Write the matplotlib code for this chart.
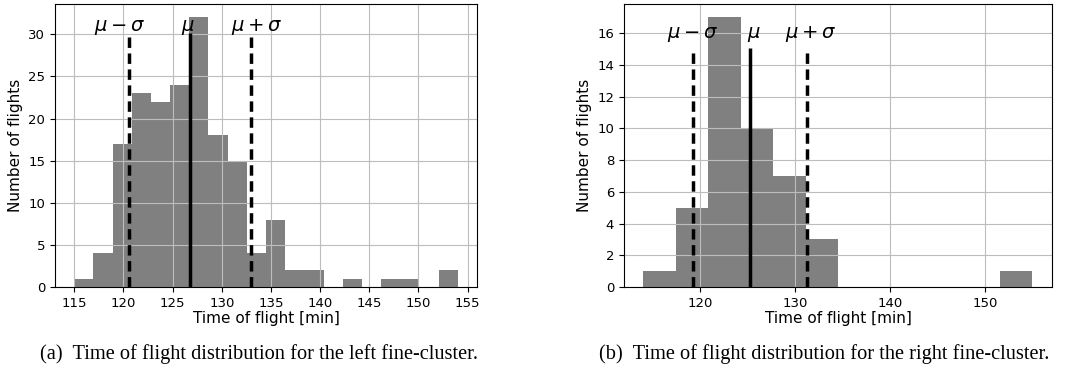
import numpy as np
import matplotlib.pyplot as plt

# left fine-cluster: 20 bins between 115 and 154 min
left_edges = np.linspace(115, 154, 21)
left_counts = [1, 4, 17, 23, 22, 24, 32, 18, 15, 4, 8, 2, 2, 0, 1, 0, 1, 1, 0, 2]
left_mu, left_sigma = 126.8, 6.22

# right fine-cluster: 12 bins between 114 and 155 min
right_edges = np.linspace(114, 155, 13)
right_counts = [1, 5, 17, 10, 7, 3, 0, 0, 0, 0, 0, 1]
right_mu, right_sigma = 125.2, 6.02

captions = ["(a)  Time of flight distribution for the left fine-cluster.",
            "(b)  Time of flight distribution for the right fine-cluster."]


def draw_hist(ax, edges, counts, mu, sigma, line_top, text_y, text_x, xticks=None):
    centers = 0.5 * (edges[:-1] + edges[1:])
    ax.hist(centers, bins=edges, weights=counts, color='gray')
    ax.vlines(mu, 0, line_top, colors='k', linewidth=2.5)
    ax.vlines([mu - sigma, mu + sigma], 0, line_top, colors='k',
              linewidth=2.5, linestyles=(0, (3, 1.6)))
    for x, lab in zip(text_x, [r'$\mu-\sigma$', r'$\mu$', r'$\mu+\sigma$']):
        ax.text(x, text_y, lab, fontsize=14, ha='center', va='bottom')
    ax.grid(True, color='#bdbdbd', linewidth=0.8)
    if xticks is not None:
        ax.set_xticks(xticks)
    ax.tick_params(labelsize=9.5)
    ax.set_xlabel('Time of flight [min]', fontsize=11, labelpad=1)
    ax.set_ylabel('Number of flights', fontsize=11)


fig = plt.figure(figsize=(10.71, 3.77), dpi=100)
ax1 = fig.add_axes([0.0514, 0.2387, 0.394, 0.7507])
ax2 = fig.add_axes([0.5826, 0.2387, 0.3996, 0.7507])

draw_hist(ax1, left_edges, left_counts, left_mu, left_sigma, 30.1, 29.7,
          [119.6, 126.6, 133.6], xticks=np.arange(115, 156, 5))
draw_hist(ax2, right_edges, right_counts, right_mu, right_sigma, 15.1, 15.3,
          [119.2, 125.6, 131.65])

fig.text(0.2418, 0.062, captions[0], family='Liberation Serif', fontsize=14.7,
         ha='center', va='center')
fig.text(0.770, 0.062, captions[1], family='Liberation Serif', fontsize=14.7,
         ha='center', va='center')

fig.savefig('out.png', dpi=100)
